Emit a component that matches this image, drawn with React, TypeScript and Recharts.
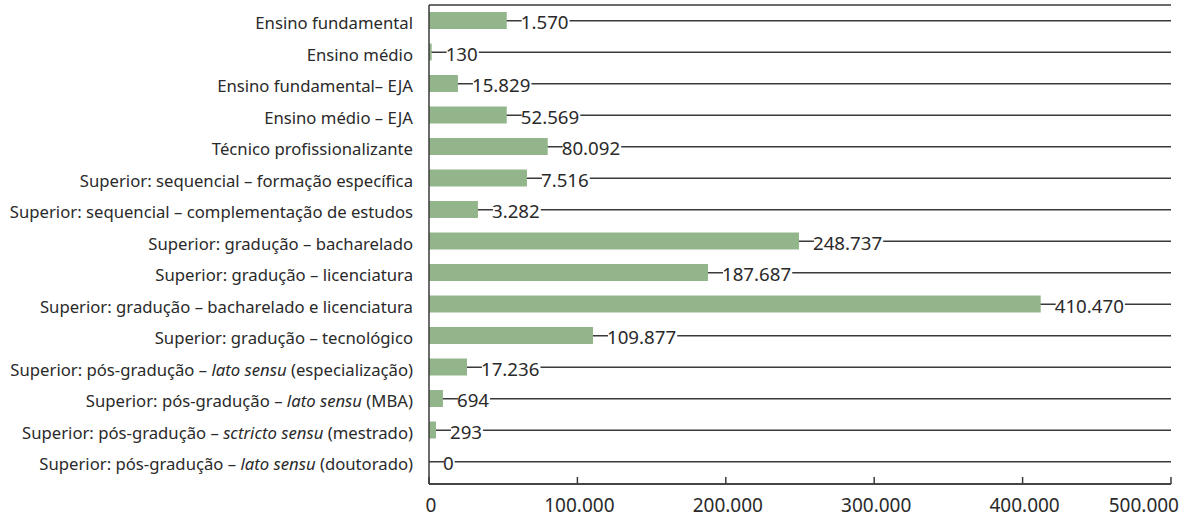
import { BarChart, Bar, XAxis, YAxis, CartesianGrid, LabelList } from 'recharts'

const FONT = "'Noto Sans', 'Open Sans', sans-serif"
const BAR_COLOR = '#93b58b'
const LINE_COLOR = '#3a3a3a'

// Category names, top to bottom
const categories = [
  'Ensino fundamental',
  'Ensino médio',
  'Ensino fundamental– EJA',
  'Ensino médio – EJA',
  'Técnico profissionalizante',
  'Superior: sequencial – formação específica',
  'Superior: sequencial – complementação de estudos',
  'Superior: gradução – bacharelado',
  'Superior: gradução – licenciatura',
  'Superior: gradução – bacharelado e licenciatura',
  'Superior: gradução – tecnológico',
  'Superior: pós-gradução – lato sensu (especialização)',
  'Superior: pós-gradução – lato sensu (MBA)',
  'Superior: pós-gradução – sctricto sensu (mestrado)',
  'Superior: pós-gradução – lato sensu (doutorado)',
]

// Bar lengths as drawn in the picture
const barValues = [
  52400, 1800, 19500, 52400, 80000, 66000, 33000, 249300,
  188000, 412200, 110500, 25600, 9400, 4700, 0,
]

// Printed value labels
const valueLabels = [
  '1.570', '130', '15.829', '52.569', '80.092', '7.516', '3.282', '248.737',
  '187.687', '410.470', '109.877', '17.236', '694', '293', '0',
]

const xTicks = [0, 100000, 200000, 300000, 400000, 500000]

// Terms printed in italics inside the category names
const italicTerms = ['lato sensu', 'sctricto sensu']

const data = categories.map((name, i) => ({
  name,
  value: barValues[i],
  label: valueLabels[i],
}))

function formatThousands(v: number): string {
  return String(v).replace(/\B(?=(\d{3})+(?!\d))/g, '.')
}

// rough glyph widths (em) for Noto Sans digits / dot
function textWidth(text: string, size: number): number {
  let w = 0
  for (const ch of text) w += ch === '.' ? 0.268 : 0.572
  return w * size
}

function CategoryTick({ x, y, payload }: any) {
  const text: string = payload.value
  const term = italicTerms.find(t => text.includes(t))
  let content: any = text
  if (term) {
    const i = text.indexOf(term)
    content = (
      <>
        <tspan>{text.slice(0, i)}</tspan>
        <tspan fontStyle="italic">{term}</tspan>
        <tspan>{text.slice(i + term.length)}</tspan>
      </>
    )
  }
  return (
    <text x={x} y={y + 8.5} textAnchor="end" fontSize={16.7} fill="#2a2a2a" fontFamily={FONT} style={{ whiteSpace: 'pre' }}>
      {content}
    </text>
  )
}

function ValueTick({ x, y, payload, index }: any) {
  const last = index === xTicks.length - 1
  return (
    <g>
      <line x1={x} x2={x} y1={y - 7} y2={y} stroke={LINE_COLOR} strokeWidth={1.5} />
      <text
        x={last ? x + 8 : x + 2}
        y={y + 28}
        textAnchor={last ? 'end' : 'middle'}
        fontSize={19}
        fill="#2a2a2a"
        fontFamily={FONT}
      >
        {formatThousands(payload.value)}
      </text>
    </g>
  )
}

function ValueLabel(props: any) {
  const { x, y, width, height, value } = props
  const text = String(value)
  const cy = Number(y) + Number(height) / 2
  const tx = Number(x) + Number(width) + 14
  const w = textWidth(text, 18.7)
  return (
    <g>
      <rect x={tx + 1} y={cy - 4} width={w} height={8} fill="#fff" />
      <text x={tx} y={cy + 8.5} fontSize={18.7} fill="#2a2a2a" fontFamily={FONT}>
        {text}
      </text>
    </g>
  )
}

export default function App() {
  return (
    <div style={{ position: 'absolute', left: 0, top: 0, background: '#fff' }}>
      <BarChart
        width={1182}
        height={514}
        data={data}
        layout="vertical"
        margin={{ top: 5, right: 11, bottom: 0, left: 0 }}
        barSize={17}
      >
        <CartesianGrid horizontal vertical={false} stroke={LINE_COLOR} strokeWidth={1.3} />
        <XAxis
          type="number"
          domain={[0, 500000]}
          ticks={xTicks}
          interval={0}
          height={30}
          tickSize={0}
          tickMargin={0}
          tickLine={false}
          axisLine={{ stroke: LINE_COLOR, strokeWidth: 1.5 }}
          tick={<ValueTick />}
        />
        <YAxis
          type="category"
          dataKey="name"
          width={429}
          interval={0}
          tickSize={0}
          tickMargin={16}
          tickLine={false}
          padding={{ top: 0, bottom: 6.5 }}
          axisLine={{ stroke: LINE_COLOR, strokeWidth: 1.5 }}
          tick={<CategoryTick />}
        />
        <Bar dataKey="value" fill={BAR_COLOR} minPointSize={0.01} isAnimationActive={false}>
          <LabelList dataKey="label" content={<ValueLabel />} />
        </Bar>
      </BarChart>
    </div>
  )
}
